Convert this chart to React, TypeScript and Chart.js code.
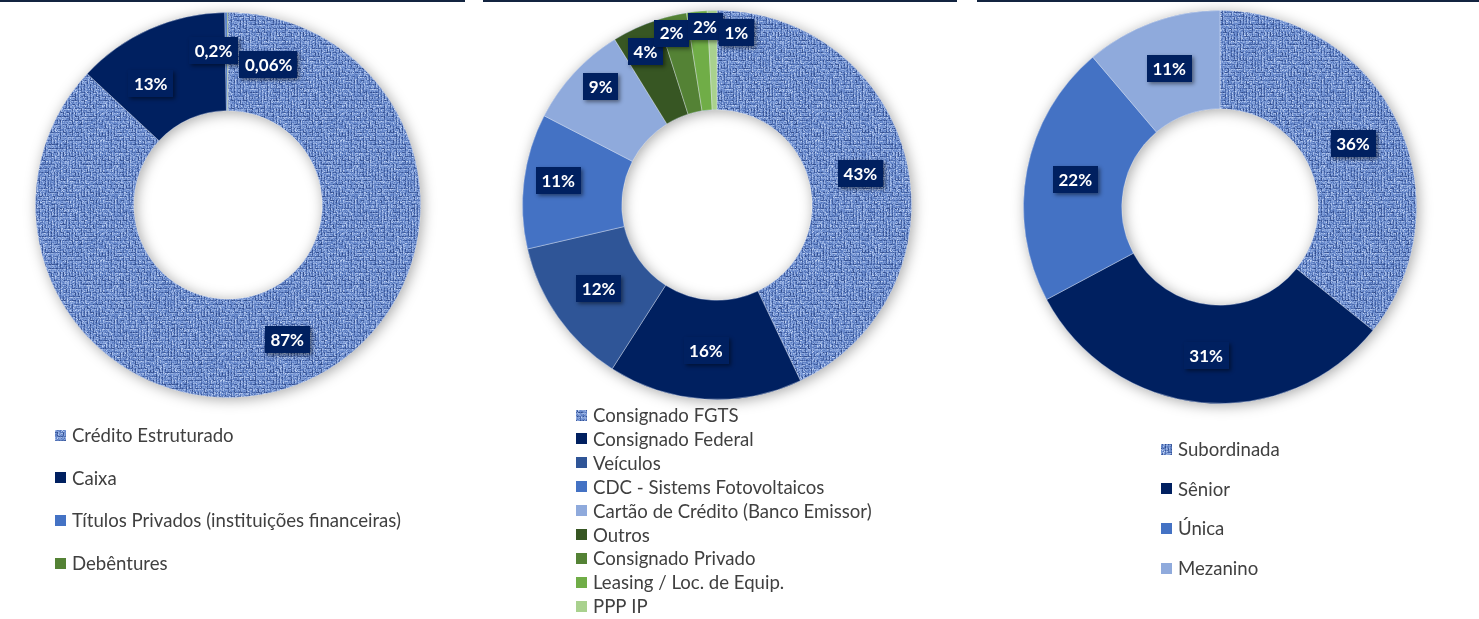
import React, { useEffect, useRef } from "react";
import { Chart, registerables } from "chart.js";
Chart.register(...registerables);

// ---------- DATA ----------
const assetCategories = ["Crédito Estruturado", "Caixa", "Títulos Privados (instituições financeiras)", "Debêntures"];
const assetValues = [86.94, 12.8, 0.2, 0.06];

const creditCategories = [
  "Consignado FGTS",
  "Consignado Federal",
  "Veículos",
  "CDC - Sistems Fotovoltaicos",
  "Cartão de Crédito (Banco Emissor)",
  "Outros",
  "Consignado Privado",
  "Leasing / Loc. de Equip.",
  "PPP IP",
];
const creditValues = [42.9, 16.1, 12.3, 11.2, 8.6, 3.9, 2.4, 1.7, 0.8];

const trancheCategories = ["Subordinada", "Sênior", "Única", "Mezanino"];
const trancheValues = [35.8, 31.4, 21.6, 11.2];

// ---------- STYLE ----------
const TEXTURE = "texture";
const assetColors = [TEXTURE, "#002060", "#4472C4", "#548235"];
const creditColors = [TEXTURE, "#002060", "#2F5597", "#4472C4", "#8FAADC", "#375623", "#548235", "#70AD47", "#A9D18E"];
const trancheColors = [TEXTURE, "#002060", "#4472C4", "#8FAADC"];

const assetLabelOffsets: [number, number][] = [[2, 3], [-19, 10], [-13, -11], [41, 3]];
const creditLabelOffsets: [number, number][] = [[2, 0], [-2, 1], [0, 0], [-15, -7], [-10, -20], [-11, -22], [-12, -31], [3, -34], [23, -28]];
const trancheLabelOffsets: [number, number][] = [[0, 0], [0, 2], [0, 0], [0, 0]];

function fmtPct(v: number): string {
  if (v >= 0.5) return Math.round(v) + "%";
  return String(v).replace(".", ",") + "%";
}

function hash(x: number, y: number): number {
  let h = (x * 374761393 + y * 668265263) | 0;
  h = Math.imul(h ^ (h >>> 13), 1274126177);
  h = h ^ (h >>> 16);
  return ((h >>> 0) % 1000) / 1000;
}

let textureCache: CanvasPattern | null = null;
function getTexture(ctx: CanvasRenderingContext2D): CanvasPattern {
  if (textureCache) return textureCache;
  const S = 120;
  const c = document.createElement("canvas");
  c.width = S;
  c.height = S;
  const g = c.getContext("2d")!;
  const img = g.createImageData(S, S);
  const base = [102, 136, 204];
  const light = [192, 210, 243];
  const dark = [40, 66, 130];
  for (let y = 0; y < S; y++) {
    for (let x = 0; x < S; x++) {
      const cx = Math.floor(x / 3);
      const cyy = Math.floor(y / 4);
      const cell = (cx + cyy + (hash(cx, cyy) > 0.7 ? 1 : 0)) % 2;
      const t = cell === 0 ? y % 4 : x % 3;
      let v = t === 0 ? -0.5 : t === 1 ? 0.4 : 0.1;
      v += (hash(x, y) - 0.5) * 0.8;
      if (hash(x + 91, y + 17) > 0.94) v += 0.6;
      let col: number[];
      if (v >= 0) {
        const k = Math.min(v, 1);
        col = base.map((b, i) => b + (light[i] - b) * k);
      } else {
        const k = Math.min(-v, 1);
        col = base.map((b, i) => b + (dark[i] - b) * k);
      }
      const idx = (y * S + x) * 4;
      img.data[idx] = col[0];
      img.data[idx + 1] = col[1];
      img.data[idx + 2] = col[2];
      img.data[idx + 3] = 255;
    }
  }
  g.putImageData(img, 0, 0);
  textureCache = ctx.createPattern(c, "repeat")!;
  return textureCache;
}

type PanelCfg = {
  left: number;
  width: number;
  padding: { left: number; right: number; top: number; bottom: number };
  cutout: string;
  categories: string[];
  values: number[];
  colors: string[];
  labelOffsets: [number, number][];
  legend: { x: number; y: number; step: number };
};

const H = 619;

const panels: PanelCfg[] = [
  {
    left: 0,
    width: 475,
    padding: { left: 35, right: 54, top: 12, bottom: 221 },
    cutout: "49%",
    categories: assetCategories,
    values: assetValues,
    colors: assetColors,
    labelOffsets: assetLabelOffsets,
    legend: { x: 55, y: 435, step: 42.7 },
  },
  {
    left: 475,
    width: 492,
    padding: { left: 47, right: 55, top: 10, bottom: 219 },
    cutout: "49%",
    categories: creditCategories,
    values: creditValues,
    colors: creditColors,
    labelOffsets: creditLabelOffsets,
    legend: { x: 576, y: 415, step: 23.9 },
  },
  {
    left: 967,
    width: 512,
    padding: { left: 56, right: 62, top: 10, bottom: 215 },
    cutout: "50%",
    categories: trancheCategories,
    values: trancheValues,
    colors: trancheColors,
    labelOffsets: trancheLabelOffsets,
    legend: { x: 1161, y: 449, step: 39.7 },
  },
];

function Donut({ cfg }: { cfg: PanelCfg }) {
  const ref = useRef<HTMLCanvasElement>(null);
  useEffect(() => {
    const canvas = ref.current!;
    const ctx0 = canvas.getContext("2d")!;
    const tex = getTexture(ctx0);
    const bg = cfg.colors.map((c) => (c === TEXTURE ? tex : c));

    const shadowPlugin = {
      id: "ringShadow",
      beforeDatasetsDraw(chart: any) {
        const arc = chart.getDatasetMeta(0).data[0] as any;
        if (!arc) return;
        const ctx = chart.ctx as CanvasRenderingContext2D;
        ctx.save();
        ctx.beginPath();
        ctx.arc(arc.x, arc.y, arc.outerRadius, 0, Math.PI * 2);
        ctx.arc(arc.x, arc.y, arc.innerRadius, 0, Math.PI * 2, true);
        ctx.closePath();
        ctx.shadowColor = "rgba(0,0,0,0.35)";
        ctx.shadowBlur = 14;
        ctx.shadowOffsetX = 2;
        ctx.shadowOffsetY = 2;
        ctx.fillStyle = "#6f8fcf";
        ctx.fill("evenodd");
        ctx.restore();
      },
    };

    const labelPlugin = {
      id: "boxLabels",
      afterDatasetsDraw(chart: any) {
        const ctx = chart.ctx as CanvasRenderingContext2D;
        const meta = chart.getDatasetMeta(0);
        ctx.save();
        ctx.font = "bold 17px Lato";
        ctx.textAlign = "center";
        ctx.textBaseline = "middle";
        meta.data.forEach((el: any, i: number) => {
          const a = (el.startAngle + el.endAngle) / 2;
          const r = (el.innerRadius + el.outerRadius) / 2;
          const off = cfg.labelOffsets[i] || [0, 0];
          const x = el.x + Math.cos(a) * r + off[0];
          const y = el.y + Math.sin(a) * r + off[1];
          const text = fmtPct(cfg.values[i]);
          const w = ctx.measureText(text).width + 11;
          const h = 27;
          ctx.save();
          ctx.shadowColor = "rgba(0,0,0,0.45)";
          ctx.shadowBlur = 4;
          ctx.shadowOffsetX = 2;
          ctx.shadowOffsetY = 2;
          ctx.fillStyle = "#002060";
          ctx.fillRect(Math.round(x - w / 2), Math.round(y - h / 2), Math.round(w), h);
          ctx.restore();
          ctx.fillStyle = "#FFFFFF";
          ctx.fillText(text, x, y + 1);
        });
        ctx.restore();
      },
    };

    const legendPlugin = {
      id: "stackLegend",
      afterDraw(chart: any) {
        const ctx = chart.ctx as CanvasRenderingContext2D;
        ctx.save();
        ctx.font = "18.6px Lato";
        ctx.textAlign = "left";
        ctx.textBaseline = "middle";
        const mx = cfg.legend.x - cfg.left;
        cfg.categories.forEach((name, i) => {
          const cy = cfg.legend.y + i * cfg.legend.step;
          ctx.fillStyle = bg[i] as any;
          ctx.fillRect(mx, Math.round(cy - 5.5), 11, 11);
          ctx.fillStyle = "#404040";
          ctx.fillText(name, mx + 17, cy + 1);
        });
        ctx.restore();
      },
    };

    const chart = new Chart(canvas, {
      type: "doughnut",
      data: {
        labels: cfg.categories,
        datasets: [
          {
            data: cfg.values,
            backgroundColor: bg as any,
            borderWidth: 1,
            borderColor: "rgba(255,255,255,0.35)",
            hoverOffset: 0,
          },
        ],
      },
      options: {
        responsive: false,
        animation: false,
        devicePixelRatio: 1,
        cutout: cfg.cutout,
        rotation: 0,
        layout: { padding: cfg.padding },
        plugins: {
          legend: { display: false },
          tooltip: { enabled: false },
          title: { display: false },
        },
        events: [],
      },
      plugins: [shadowPlugin, labelPlugin, legendPlugin],
    });
    return () => chart.destroy();
  }, [cfg]);
  return (
    <canvas
      ref={ref}
      width={cfg.width}
      height={H}
      style={{ position: "absolute", left: cfg.left, top: 0, width: cfg.width, height: H }}
    />
  );
}

const topLines: [number, number][] = [
  [0, 465],
  [483, 957],
  [977, 1479],
];

export default function App() {
  return (
    <div
      style={{
        position: "fixed",
        left: 0,
        top: 0,
        width: 1479,
        height: H,
        background: "#FFFFFF",
        overflow: "hidden",
      }}
    >
      {panels.map((p, i) => (
        <Donut key={i} cfg={p} />
      ))}
      {topLines.map(([a, b], i) => (
        <div
          key={"l" + i}
          style={{ position: "absolute", left: a, top: 0, width: b - a, height: 2, background: "#132440" }}
        />
      ))}
    </div>
  );
}
